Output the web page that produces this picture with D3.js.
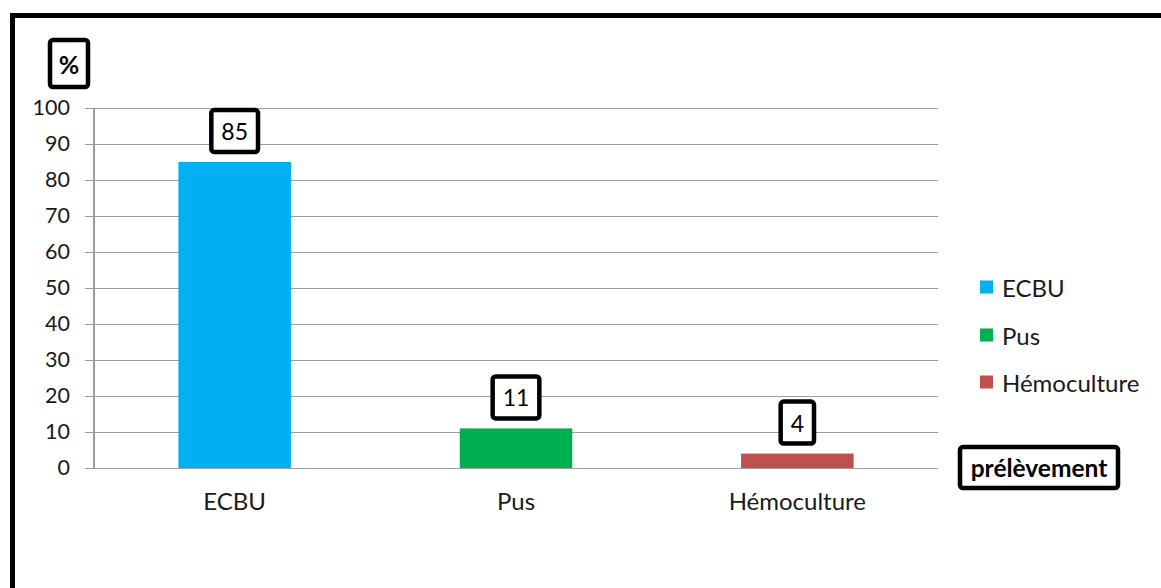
<!DOCTYPE html>
<html>
<head>
<meta charset="utf-8">
<script src="https://cdn.jsdelivr.net/npm/d3@7"></script>
<style>
  html, body { margin: 0; padding: 0; background: #fff; }
  svg { display: block; }
</style>
</head>
<body>
<svg id="chart" width="1161" height="588"></svg>
<script>
// Sample types and their share (%)
const categories = ["ECBU", "Pus", "Hémoculture"];
const values = [85, 11, 4];
const colors = ["#00b0f0", "#00b050", "#c0504d"];
const yTicks = [0, 10, 20, 30, 40, 50, 60, 70, 80, 90, 100];
const yTitle = "%";
const xTitle = "prélèvement";

const font = "Lato, 'Open Sans', sans-serif";
const svg = d3.select("#chart");

// Outer frame (open on the right and bottom edges)
svg.append("rect")
  .attr("x", 12.5).attr("y", 15.5)
  .attr("width", 1400).attr("height", 800)
  .attr("fill", "none").attr("stroke", "#000").attr("stroke-width", 5);

const plot = { left: 94, right: 938, top: 108, bottom: 468 };

const x = d3.scaleBand()
  .domain(categories)
  .range([plot.left, plot.right])
  .paddingInner(0.6)
  .paddingOuter(0.3);

const y = d3.scaleLinear()
  .domain([0, 100])
  .range([plot.bottom, plot.top]);

// Horizontal gridlines with left tick stubs
const yAxis = d3.axisLeft(y)
  .tickValues(yTicks)
  .tickSize(-(plot.right - plot.left))
  .tickPadding(24)
  .tickFormat(d3.format("d"));

const gy = svg.append("g")
  .attr("transform", `translate(${plot.left},0)`)
  .call(yAxis);
gy.select(".domain").remove();
gy.selectAll(".tick line")
  .attr("x1", -9)
  .attr("stroke", "#9d9d9d").attr("stroke-width", 1.2)
  .attr("shape-rendering", "crispEdges");
gy.selectAll(".tick text")
  .attr("font-family", font).attr("font-size", 21.5).attr("fill", "#1a1a1a");

// Vertical axis line
svg.append("line")
  .attr("x1", plot.left).attr("x2", plot.left)
  .attr("y1", y(100)).attr("y2", y(0))
  .attr("stroke", "#9d9d9d").attr("stroke-width", 1.2)
  .attr("shape-rendering", "crispEdges");

// Category labels
const xAxis = d3.axisBottom(x).tickSize(0).tickPadding(25);
const gx = svg.append("g")
  .attr("transform", `translate(0,${plot.bottom})`)
  .call(xAxis);
gx.select(".domain").remove();
gx.selectAll(".tick text")
  .attr("font-family", font).attr("font-size", 24).attr("fill", "#1a1a1a");

// Bars
svg.append("g").selectAll("rect")
  .data(categories)
  .join("rect")
  .attr("x", d => x(d))
  .attr("width", x.bandwidth())
  .attr("y", (d, i) => y(values[i]))
  .attr("height", (d, i) => y(0) - y(values[i]))
  .attr("fill", (d, i) => colors[i]);

// Boxed text helper
function boxedText(cx, cy, text, opts) {
  const g = svg.append("g");
  const t = g.append("text")
    .attr("x", cx).attr("y", cy)
    .attr("text-anchor", "middle")
    .attr("dominant-baseline", "central")
    .attr("font-family", font)
    .attr("font-size", opts.size)
    .attr("font-weight", opts.weight || "normal")
    .attr("fill", "#000")
    .text(text);
  const w = opts.width || (t.node().getComputedTextLength() + 2 * opts.padX);
  g.insert("rect", "text")
    .attr("x", cx - w / 2).attr("y", cy - opts.height / 2)
    .attr("width", w).attr("height", opts.height)
    .attr("rx", 3).attr("ry", 3)
    .attr("fill", "#fff").attr("stroke", "#000").attr("stroke-width", 4.5);
  return g;
}

// Value labels above bars
categories.forEach((c, i) => {
  const cx = x(c) + x.bandwidth() / 2;
  boxedText(cx, y(values[i]) - 31, String(values[i]), { size: 23, padX: 10, height: 42 });
});

// Axis titles
boxedText(69, 63.5, yTitle, { size: 25, weight: "bold", width: 38, height: 47 });
boxedText(1039, 467.5, xTitle, { size: 24.5, weight: "bold", width: 158, height: 41 });

// Legend
const legend = svg.append("g").attr("transform", "translate(980,0)");
const legendY = [287, 335, 382];
categories.forEach((c, i) => {
  legend.append("rect")
    .attr("x", 0).attr("y", legendY[i] - 6.5)
    .attr("width", 13).attr("height", 13)
    .attr("fill", colors[i]);
  legend.append("text")
    .attr("x", 22).attr("y", legendY[i])
    .attr("dominant-baseline", "central")
    .attr("font-family", font).attr("font-size", 24).attr("fill", "#1a1a1a")
    .text(c);
});
</script>
</body>
</html>
